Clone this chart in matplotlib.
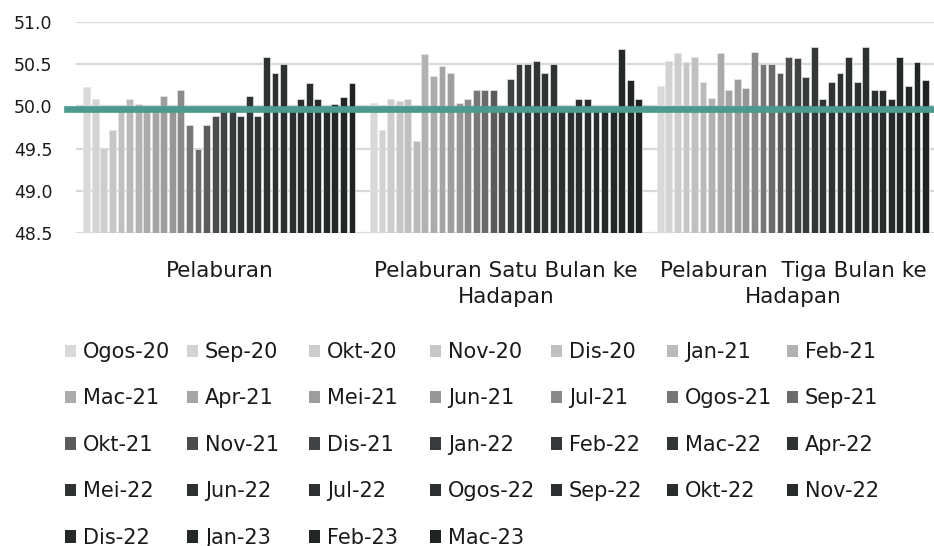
import matplotlib
matplotlib.use("Agg")
import matplotlib.pyplot as plt
import numpy as np

categories = ["Pelaburan", "Pelaburan Satu Bulan ke\nHadapan", "Pelaburan  Tiga Bulan ke\nHadapan"]
series = ["Ogos-20", "Sep-20", "Okt-20", "Nov-20", "Dis-20",
          "Jan-21", "Feb-21", "Mac-21", "Apr-21", "Mei-21", "Jun-21", "Jul-21",
          "Ogos-21", "Sep-21", "Okt-21", "Nov-21", "Dis-21",
          "Jan-22", "Feb-22", "Mac-22", "Apr-22", "Mei-22", "Jun-22", "Jul-22",
          "Ogos-22", "Sep-22", "Okt-22", "Nov-22", "Dis-22",
          "Jan-23", "Feb-23", "Mac-23"]

pelaburan = [50.23, 50.09, 49.51, 49.72, 50.0, 50.09, 50.03, 50.0, 50.0, 50.12, 50.0,
             50.20, 49.78, 49.50, 49.78, 49.89, 50.0, 50.0, 49.89, 50.12, 49.89, 50.59,
             50.39, 50.50, 50.0, 50.09, 50.28, 50.09, 50.0, 50.03, 50.11, 50.28]
satu_bulan = [50.04, 49.72, 50.09, 50.06, 50.09, 49.59, 50.62, 50.36, 50.48, 50.39, 50.04,
              50.09, 50.19, 50.19, 50.19, 50.0, 50.33, 50.50, 50.50, 50.54, 50.39, 50.50,
              50.0, 50.0, 50.09, 50.09, 50.0, 50.0, 50.0, 50.68, 50.31, 50.09]
tiga_bulan = [50.24, 50.54, 50.63, 50.53, 50.59, 50.29, 50.10, 50.63, 50.19, 50.33, 50.22,
              50.65, 50.50, 50.50, 50.39, 50.59, 50.57, 50.35, 50.70, 50.09, 50.29, 50.39,
              50.59, 50.29, 50.70, 50.19, 50.19, 50.09, 50.59, 50.24, 50.53, 50.31]
threshold = 49.97
yticks = [48.5, 49.0, 49.5, 50.0, 50.5, 51.0]

colors = ["#d9d9d9", "#d3d3d3", "#cdcdcd", "#c7c7c7", "#c0c0c0", "#bababa", "#b2b2b2",
          "#ababab", "#a5a5a5", "#9e9e9e", "#979797", "#8a8a8a", "#777777", "#6b6b6b",
          "#5b5b5b", "#4b4d4d", "#404343", "#383b3b", "#343737", "#323535", "#303333",
          "#2f3232", "#2e3131", "#2d3030", "#2c2f2f", "#2b2e2e", "#2a2d2d", "#282b2b",
          "#262929", "#242827", "#222625", "#1f2322"]

plt.rcParams['font.family'] = ['DejaVu Sans']

data = np.array([pelaburan, satu_bulan, tiga_bulan])  # shape (3, 32)
n = len(series)
fig = plt.figure(figsize=(9.34, 5.46), dpi=100)
W, H = 934, 546
ax = fig.add_axes([76 / W, 1 - 233 / H, (934 - 76) / W, (233 - 22) / H])

x = np.arange(len(categories))
group_w = 0.955
slot = group_w / n
handles = []
for i in range(n):
    pos = x - group_w / 2 + slot * (i + 0.5)
    b = ax.bar(pos, data[:, i], width=slot * 0.8, color=colors[i],
               edgecolor="#e6e6e6", linewidth=0.5, zorder=2, label=series[i])
    handles.append(b)

ax.set_ylim(48.5, 51.0)
ax.set_xlim(-0.5, 2.492)
ax.set_yticks(yticks)
ax.set_yticklabels([f"{v:.1f}" for v in yticks])
ax.yaxis.grid(True, color="#d9d9d9", linewidth=1.6, zorder=0)
ax.set_axisbelow(True)
ax.set_xticks(x)
ax.set_xticklabels(categories, linespacing=1.42)
ax.tick_params(axis="y", length=0, pad=17, labelsize=12.5, colors="#1a1a1a")
ax.tick_params(axis="x", length=0, pad=20, labelsize=15.5, colors="#1a1a1a")
for s in ax.spines.values():
    s.set_visible(False)

ax.axhline(threshold, xmin=-9 / 858, xmax=1.0, color="#4a9a8d", linewidth=4.8,
           zorder=5, clip_on=False)

# legend: 7 columns on a fixed grid
col_left = [65, 187, 309, 430, 551, 667, 787]
for c in range(7):
    idx = list(range(c, n, 7))
    leg = fig.legend([handles[i] for i in idx], [series[i] for i in idx],
                     loc="upper left", bbox_to_anchor=(col_left[c] / W, 1 - 342 / H),
                     frameon=False, fontsize=15, handlelength=0.52, handleheight=0.52,
                     handletextpad=0.35, borderpad=0, borderaxespad=0,
                     labelspacing=1.27, labelcolor="#1a1a1a")
    for p in leg.get_patches():
        p.set_edgecolor("none")

fig.savefig("out.png", dpi=100)
